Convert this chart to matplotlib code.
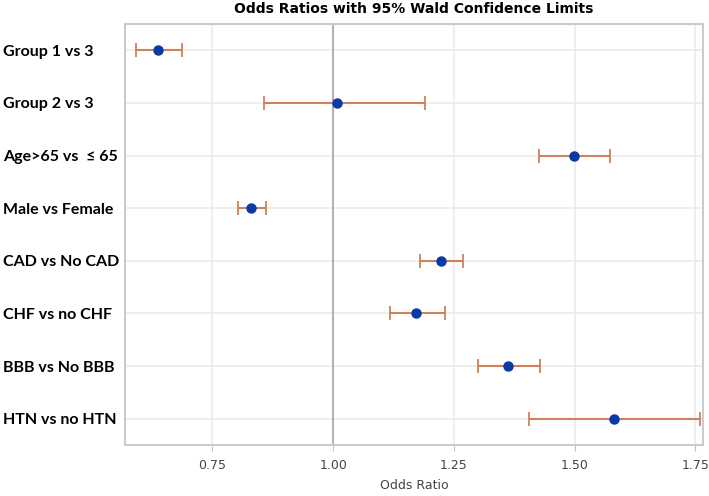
import numpy as np
import matplotlib.pyplot as plt

# odds ratios with 95% Wald confidence limits
labels = ['Group 1 vs 3', 'Group 2 vs 3', 'Age>65 vs  \u2264 65', 'Male vs Female',
          'CAD vs No CAD', 'CHF vs no CHF ', 'BBB vs No BBB', 'HTN vs no HTN']
odds = [0.637, 1.009, 1.499, 0.830, 1.224, 1.172, 1.362, 1.582]
lower = [0.591, 0.856, 1.426, 0.803, 1.179, 1.117, 1.300, 1.405]
upper = [0.688, 1.191, 1.573, 0.860, 1.269, 1.232, 1.428, 1.760]

xticks = [0.75, 1.00, 1.25, 1.50, 1.75]

odds = np.array(odds)
lower = np.array(lower)
upper = np.array(upper)
y = np.arange(len(labels))

fig = plt.figure(figsize=(7.09, 4.96), dpi=100)
ax = fig.add_axes([125 / 709, 1 - 445 / 496, (703 - 125) / 709, (445 - 24) / 496])

ax.errorbar(odds, y, xerr=[odds - lower, upper - odds], fmt='none',
            ecolor='#d0805a', elinewidth=1.5, capsize=5, capthick=1.3, zorder=3)
ax.plot(odds, y, 'o', color='#0a3aa8', markersize=6.5, zorder=4)

ax.axvline(1.0, color='#b0b4b8', lw=1.5, zorder=2)

ax.set_xlim(0.569, 1.766)
ax.set_ylim(len(labels) - 0.5, -0.5)
ax.set_xticks(xticks)
ax.set_xticklabels(['%.2f' % t for t in xticks], fontsize=9, color='#444444')
ax.set_yticks(y)
ax.set_yticklabels(labels, fontsize=11.5, fontweight='bold', family='Lato')
# left-aligned labels starting near the figure's left edge
ax.tick_params(axis='y', length=0, pad=(125 - 3) * 72 / 100)
for t in ax.get_yticklabels():
    t.set_horizontalalignment('left')
ax.tick_params(axis='x', length=4, color='#c0c4c8', pad=6)
ax.grid(True, color='#ebebeb', lw=1.2, zorder=0)
ax.set_axisbelow(True)
for s in ax.spines.values():
    s.set_color('#c8ccd0')
    s.set_linewidth(1.5)

ax.set_xlabel('Odds Ratio', fontsize=9, color='#444444', labelpad=5)
ax.set_title('Odds Ratios with 95% Wald Confidence Limits', fontsize=10,
             fontweight='bold', pad=8)

fig.savefig('out.png', dpi=100)
